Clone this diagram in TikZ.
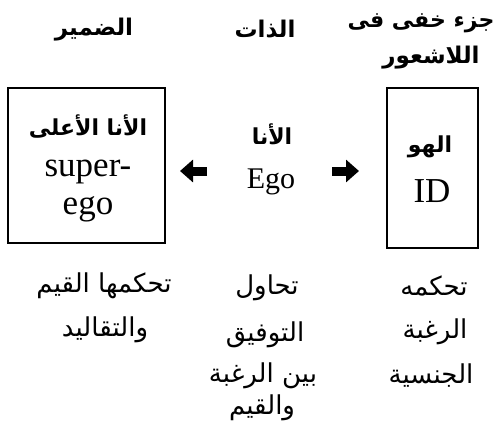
\documentclass[tikz,border=0pt]{standalone}
\usepackage{fontspec}
\setmainfont{Liberation Serif}
\newfontfamily\arb[Script=Arabic]{DejaVu Sans}
\TeXXeTstate=1
\usetikzlibrary{arrows.meta}
\begin{document}
\begin{tikzpicture}[x=1pt,y=-1pt,
  hdr/.style={font=\arb\bfseries\fontsize{23}{27}\selectfont, inner sep=0pt},
  ttl/.style={font=\arb\bfseries\fontsize{22}{26}\selectfont, inner sep=0pt},
  lat/.style={font=\fontsize{35}{38}\selectfont, inner sep=0pt, anchor=base},
  latsm/.style={font=\fontsize{30}{34}\selectfont, inner sep=0pt, anchor=base},
  boxshape/.style={draw, line width=2.2pt, inner sep=0pt},
  desc/.style={font=\arb\fontsize{26}{30}\selectfont, inner sep=0pt},
  fat/.style={line width=9pt, -{Triangle[length=13pt,width=22pt]}}]
\useasboundingbox (0,0) rectangle (497,444);
% headers
\node[hdr] (h1) at (94,30) {\beginR الضمير\endR};
\node[hdr] (h2) at (265,29) {\beginR الذات\endR};
\node[hdr, font=\arb\bfseries\fontsize{22}{26}\selectfont] (h3) at (421,23) {\beginR جزء خفى فى\endR};
\node[hdr] (h4) at (431,58) {\beginR اللاشعور\endR};
% boxes
\node[boxshape, minimum width=157pt, minimum height=155pt] (supbox) at (86.5,165.5) {};
\node[boxshape, minimum width=91pt, minimum height=160pt] (idbox) at (432.5,168) {};
% box contents
\node[ttl] (t1) at (88,127) {\beginR الأنا الأعلى\endR};
\node[lat] (s1) at (88,176) {super-};
\node[lat] (s2) at (88,214) {ego};
\node[ttl] (t2) at (272,134) {\beginR الأنا\endR};
\node[latsm] (e1) at (271,188) {Ego};
\node[ttl] (t3) at (430,147) {\beginR الهو\endR};
\node[lat] (i1) at (432,202) {ID};
% arrows
\coordinate (la) at (207,171);
\coordinate (lb) at (180,171);
\coordinate (ra) at (332,171);
\coordinate (rb) at (359,171);
\draw[fat] (la) -- (lb);
\draw[fat] (ra) -- (rb);
% descriptions
\node[desc] (d1) at (104,286) {\beginR تحكمها القيم\endR};
\node[desc] (d2) at (105,330) {\beginR والتقاليد\endR};
\node[desc] (d3) at (267,288) {\beginR تحاول\endR};
\node[desc] (d4) at (265,335) {\beginR التوفيق\endR};
\node[desc] (d5) at (263,376) {\beginR بين الرغبة\endR};
\node[desc] (d6) at (262,408) {\beginR والقيم\endR};
\node[desc] (d7) at (434,286) {\beginR تحكمه\endR};
\node[desc] (d8) at (435,332) {\beginR الرغبة\endR};
\node[desc] (d9) at (431,376) {\beginR الجنسية\endR};
\end{tikzpicture}
\end{document}
